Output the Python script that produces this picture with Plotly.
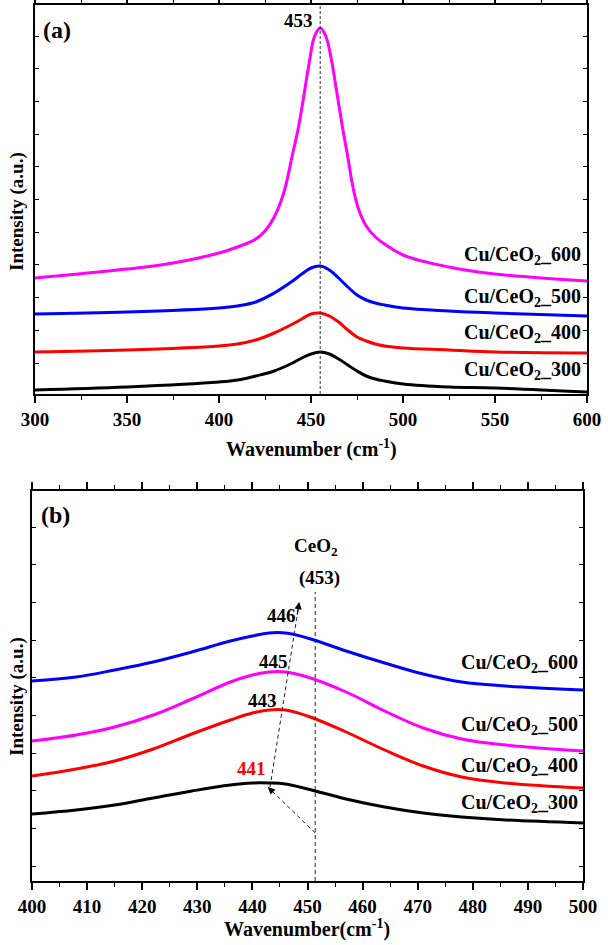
import plotly.graph_objects as go

# ---------------- Panel (a) data ----------------
a_x_300 = [300, 350, 400, 410, 420, 430, 440, 445, 450, 455, 460, 465, 470, 475, 480, 485, 490, 500, 525, 550, 600]
a_y_300 = [4, 7, 12, 14, 18, 23, 31, 36, 40, 42, 40, 35, 29, 23, 18, 15, 13, 10, 7, 6, 2]

a_x_400 = [300, 350, 400, 410, 420, 430, 440, 445, 450, 455, 460, 465, 470, 475, 480, 485, 490, 500, 525, 550, 600]
a_y_400 = [42, 44, 48, 50, 54, 61, 70, 75, 80, 81, 78, 72, 64, 57, 53, 50, 48, 46, 44, 42, 41]

a_x_500 = [300, 350, 400, 410, 420, 430, 440, 445, 450, 455, 460, 465, 470, 475, 480, 485, 490, 500, 525, 550, 600]
a_y_500 = [80, 82, 86, 88, 92, 101, 113, 120, 126, 128, 124, 116, 107, 99, 94, 91, 89, 86, 83, 81, 78]

a_x_600 = [300, 350, 375, 400, 410, 420, 425, 430, 435, 440, 443, 446, 449, 452, 455,
           458, 461, 464, 467, 470, 473, 476, 480, 485, 490, 500, 525, 550, 600]
a_y_600 = [116, 125, 131, 141, 147, 155, 163, 177, 200, 240, 265, 297, 331, 358, 366,
           358, 335, 302, 268, 237, 205, 184, 168, 157, 150, 139, 127, 120, 113]

# ---------------- Panel (b) data ----------------
b_x = [400, 408, 415, 422, 429, 436, 440, 443, 446, 450, 457, 464, 471, 478, 486, 500]
b_y_600 = [200, 204, 211, 219, 229, 240, 245, 248, 248, 243, 230, 218, 207, 199, 195, 191]
b_y_500 = [140, 146, 154, 166, 182, 199, 206, 209, 209, 204, 189, 170, 153, 142, 136, 130]
b_y_400 = [105, 112, 120, 132, 147, 161, 168, 171, 171, 165, 149, 131, 115, 104, 98, 93]
b_y_300 = [67, 71, 76, 83, 90, 96, 98, 98, 97, 92, 82, 74, 68, 64, 61, 58]

labels = ["Cu/CeO<sub>2</sub>_300", "Cu/CeO<sub>2</sub>_400",
          "Cu/CeO<sub>2</sub>_500", "Cu/CeO<sub>2</sub>_600"]
colors = {"300": "#000000", "400": "#FF0000", "500": "#0000FF", "600": "#FF00FF"}

# label positions (intensity units)
a_label_y = [24, 61, 97, 139]
b_label_y = [78, 115, 156, 218]

# peak marker annotations in (b)
b_peak_text = ["441", "443", "445", "446"]
b_peak_x = [439.8, 441.9, 443.8, 445.3]
b_peak_y = [113, 181, 220, 266]

# guide lines
a_ref_x = [455, 455]
a_ref_y = [0, 389]
b_ref_x = [451.4, 451.4]
b_ref_y = [0, 289]
arrow1_x = [451.4, 442.8]
arrow1_y = [48, 94]
arrow2_x = [443.2, 448.5]
arrow2_y = [94, 279]

W, H = 608, 945
FONT = "Liberation Serif"

fig = go.Figure()

lw = 3
def add_line(x, y, color, xa, ya):
    fig.add_trace(go.Scatter(x=x, y=y, mode="lines",
                             line=dict(color=color, width=lw, shape="spline", smoothing=1.1),
                             xaxis=xa, yaxis=ya))

add_line(a_x_300, a_y_300, colors["300"], "x", "y")
add_line(a_x_400, a_y_400, colors["400"], "x", "y")
add_line(a_x_500, a_y_500, colors["500"], "x", "y")
add_line(a_x_600, a_y_600, colors["600"], "x", "y")
fig.add_trace(go.Scatter(x=a_ref_x, y=a_ref_y, mode="lines", line=dict(color="#333333", width=1, dash="3px,2px"), xaxis="x", yaxis="y"))

add_line(b_x, b_y_300, colors["300"], "x2", "y2")
add_line(b_x, b_y_400, colors["400"], "x2", "y2")
add_line(b_x, b_y_500, colors["600"], "x2", "y2")
add_line(b_x, b_y_600, colors["500"], "x2", "y2")
for xs, ys in [(b_ref_x, b_ref_y), (arrow1_x, arrow1_y), (arrow2_x, arrow2_y)]:
    fig.add_trace(go.Scatter(x=xs, y=ys, mode="lines", line=dict(color="#222222", width=1, dash="4px,3px"), xaxis="x2", yaxis="y2"))

ann = []
tf = dict(family=FONT, size=20, color="black")
for lab, yv in zip(labels, a_label_y):
    ann.append(dict(x=598, y=yv, xref="x", yref="y", text="<b>" + lab + "</b>", showarrow=False,
                    xanchor="right", yanchor="middle", font=tf))
for lab, yv in zip(labels, b_label_y):
    ann.append(dict(x=499.5, y=yv, xref="x2", yref="y2", text="<b>" + lab + "</b>", showarrow=False,
                    xanchor="right", yanchor="middle", font=tf))
for t, xv, yv in zip(b_peak_text, b_peak_x, b_peak_y):
    ann.append(dict(x=xv, y=yv, xref="x2", yref="y2", text="<b>" + t + "</b>", showarrow=False,
                    xanchor="center", yanchor="middle",
                    font=dict(family=FONT, size=19, color="#FF0000" if t == "441" else "black")))
ann.append(dict(x=452, y=374, xref="x", yref="y", text="<b>453</b>", showarrow=False,
                xanchor="right", yanchor="middle", font=dict(family=FONT, size=19, color="black")))
ann.append(dict(x=451.5, y=334, xref="x2", yref="y2", text="<b>CeO<sub>2</sub></b>", showarrow=False,
                xanchor="center", yanchor="middle", font=dict(family=FONT, size=19, color="black")))
ann.append(dict(x=452.2, y=303, xref="x2", yref="y2", text="<b>(453)</b>", showarrow=False,
                xanchor="center", yanchor="middle", font=dict(family=FONT, size=19, color="black")))
# arrowheads
ann.append(dict(x=arrow1_x[1], y=arrow1_y[1], ax=arrow1_x[1] + 1.2, ay=arrow1_y[1] - 6.4,
                xref="x2", yref="y2", axref="x2", ayref="y2", text="", showarrow=True,
                arrowhead=2, arrowsize=1.2, arrowwidth=1.2, arrowcolor="black"))
ann.append(dict(x=arrow2_x[1], y=arrow2_y[1], ax=arrow2_x[1] - 0.4, ay=arrow2_y[1] - 14,
                xref="x2", yref="y2", axref="x2", ayref="y2", text="", showarrow=True,
                arrowhead=2, arrowsize=1.2, arrowwidth=1.2, arrowcolor="black"))
# panel tags
ann.append(dict(x=41 / W, y=1 - 30 / H, xref="paper", yref="paper", text="<b>(a)</b>", showarrow=False,
                xanchor="left", yanchor="middle", font=dict(family=FONT, size=24, color="black")))
ann.append(dict(x=39 / W, y=1 - 515 / H, xref="paper", yref="paper", text="<b>(b)</b>", showarrow=False,
                xanchor="left", yanchor="middle", font=dict(family=FONT, size=24, color="black")))
# axis titles
ann.append(dict(x=17 / W, y=1 - 212 / H, xref="paper", yref="paper", text="<b>Intensity (a.u.)</b>", showarrow=False,
                textangle=-90, xanchor="center", yanchor="middle", font=dict(family=FONT, size=19, color="black")))
ann.append(dict(x=17 / W, y=1 - 697 / H, xref="paper", yref="paper", text="<b>Intensity (a.u.)</b>", showarrow=False,
                textangle=-90, xanchor="center", yanchor="middle", font=dict(family=FONT, size=19, color="black")))
ann.append(dict(x=311 / W, y=1 - 449 / H, xref="paper", yref="paper", text="<b>Wavenumber (cm<sup>-1</sup>)</b>", showarrow=False,
                xanchor="center", yanchor="middle", font=dict(family=FONT, size=20, color="black")))
ann.append(dict(x=307 / W, y=1 - 928 / H, xref="paper", yref="paper", text="<b>Wavenumber(cm<sup>-1</sup>)</b>", showarrow=False,
                xanchor="center", yanchor="middle", font=dict(family=FONT, size=20, color="black")))

axis_common = dict(showline=True, linecolor="black", linewidth=1.5, mirror="allticks", showgrid=False,
                   zeroline=False, tickcolor="black", automargin=False)
tickfont = dict(family=FONT, size=19, color="black")

fig.update_layout(
    template="none",
    width=W, height=H, margin=dict(l=0, r=0, t=0, b=0, pad=0), autosize=False,
    paper_bgcolor="white", plot_bgcolor="white", showlegend=False,
    xaxis=dict(domain=[35 / W, 587 / W], anchor="y", range=[300, 600], tickmode="linear", tick0=300, dtick=50,
               ticks="outside", ticklen=7, tickwidth=1.5, tickfont=tickfont, tickprefix="<b>", ticksuffix="</b>",
               minor=dict(ticks="outside", ticklen=4, dtick=25, tickcolor="black", tickwidth=1.2), **axis_common),
    yaxis=dict(domain=[1 - 394 / H, 1 - 5 / H], anchor="x", range=[0, 389], tickmode="linear", tick0=31, dtick=32.7,
               ticks="inside", ticklen=4, tickwidth=1.2, showticklabels=False, **axis_common),
    xaxis2=dict(domain=[32 / W, 583 / W], anchor="y2", range=[400, 500], tickmode="linear", tick0=400, dtick=10,
                ticks="outside", ticklen=7, tickwidth=1.5, tickfont=tickfont, tickprefix="<b>", ticksuffix="</b>",
                minor=dict(ticks="outside", ticklen=4, dtick=5, tickcolor="black", tickwidth=1.2), **axis_common),
    yaxis2=dict(domain=[1 - 881 / H, 1 - 491 / H], anchor="x2", range=[0, 390], tickmode="linear", tick0=14.7, dtick=37.7,
                ticks="inside", ticklen=4, tickwidth=1.2, showticklabels=False, **axis_common),
    annotations=ann,
)

fig.write_html("out.html", config={"responsive": False, "displayModeBar": False},
               post_script="document.body.style.margin='0';document.body.style.overflow='hidden';")
